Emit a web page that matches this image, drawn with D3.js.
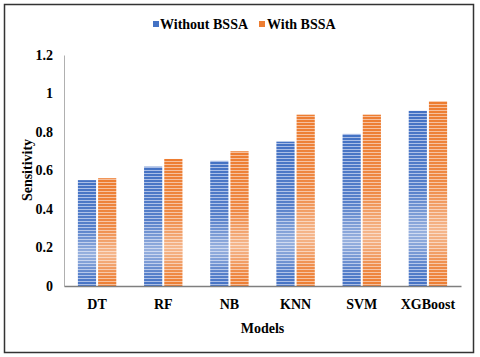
<!DOCTYPE html>
<html><head><meta charset="utf-8">
<script src="https://cdn.jsdelivr.net/npm/d3@7"></script>
<style>html,body{margin:0;padding:0;background:#fff}svg{display:block}</style>
</head><body><svg id="c" width="480" height="357"></svg>
<script>
const categories = ["DT","RF","NB","KNN","SVM","XGBoost"];
const seriesNames = ["Without BSSA","With BSSA"];
const withoutBSSA = [0.55,0.62,0.65,0.75,0.79,0.91];
const withBSSA = [0.56,0.66,0.70,0.89,0.89,0.96];
const yTicks = [0,0.2,0.4,0.6,0.8,1,1.2];
const colors = ["#4472C4","#ED7D31"];
const lights = ["#a9bde6","#f6bf9c"];

const svg = d3.select("#c");
const font = "'Liberation Serif','Times New Roman',serif";
const m = {l:64, r:461, t:55, b:286};
const x = d3.scaleBand().domain(categories).range([m.l, m.r]).paddingInner(0.42).paddingOuter(0.21);
const xs = d3.scaleBand().domain(seriesNames).range([0, x.bandwidth()]).paddingInner(0.1);
const y = d3.scaleLinear().domain([0,1.2]).range([m.b, m.t]);

const defs = svg.append("defs");
colors.forEach((c,i)=>{
  const p = defs.append("pattern").attr("id","p"+i).attr("patternUnits","userSpaceOnUse")
    .attr("width",4).attr("height",3);
  p.append("rect").attr("width",4).attr("height",3).attr("fill",c);
  p.append("rect").attr("y",2).attr("width",4).attr("height",1).attr("fill",lights[i]);
  const g = defs.append("linearGradient").attr("id","g"+i).attr("x1",0).attr("x2",0).attr("y1",0).attr("y2",1);
  [[0,0],[0.45,0.1],[0.7,0.45],[0.8,0.3],[0.9,0.1],[1,0]].forEach(([o,a])=>
    g.append("stop").attr("offset",o).attr("stop-color","#fff").attr("stop-opacity",a));
});

// border
svg.append("rect").attr("x",4.5).attr("y",4.5).attr("width",469).attr("height",348)
  .attr("fill","none").attr("stroke","#333").attr("stroke-width",1.5);

// y axis
const ya = svg.append("g").attr("transform",`translate(${m.l},0)`)
  .call(d3.axisLeft(y).tickValues(yTicks).tickSize(0).tickPadding(11).tickFormat(d=>d3.format("")(d)));
ya.select(".domain").attr("stroke","#b0b0b0").attr("stroke-width",1);
ya.selectAll("text").attr("font-family",font).attr("font-weight","bold").attr("font-size",14).attr("fill","#000");

// bars
const series = [withoutBSSA, withBSSA];
series.forEach((vals,si)=>{
  const g = svg.append("g");
  const sel = g.selectAll("g").data(categories).join("g");
  sel.append("rect")
    .attr("x",(d,i)=>x(d)+xs(seriesNames[si])).attr("width",xs.bandwidth())
    .attr("y",(d,i)=>y(vals[i])).attr("height",(d,i)=>y(0)-y(vals[i]))
    .attr("fill",`url(#p${si})`);
  sel.append("rect")
    .attr("x",(d,i)=>x(d)+xs(seriesNames[si])).attr("width",xs.bandwidth())
    .attr("y",(d,i)=>y(vals[i])).attr("height",(d,i)=>y(0)-y(vals[i]))
    .attr("fill",`url(#g${si})`);
});

// x axis
const xa = svg.append("g").attr("transform",`translate(0,${m.b})`)
  .call(d3.axisBottom(x).tickSize(0).tickPadding(13));
xa.select(".domain").attr("stroke","#7f7f7f").attr("stroke-width",1.5);
xa.selectAll("text").attr("font-family",font).attr("font-weight","bold").attr("font-size",14).attr("fill","#000");

// axis titles
svg.append("text").attr("x",(m.l+m.r)/2).attr("y",333).attr("text-anchor","middle")
  .attr("font-family",font).attr("font-weight","bold").attr("font-size",14).text("Models");
svg.append("text").attr("transform","translate(32,170) rotate(-90)").attr("text-anchor","middle")
  .attr("font-family",font).attr("font-weight","bold").attr("font-size",14).text("Sensitivity");

// legend
const leg = [{x:153,tx:160},{x:259,tx:267}];
seriesNames.forEach((n,i)=>{
  svg.append("rect").attr("x",leg[i].x).attr("y",21).attr("width",6).attr("height",6).attr("fill",colors[i]);
  svg.append("text").attr("x",leg[i].tx).attr("y",29).attr("font-family",font).attr("font-weight","bold")
    .attr("font-size",14).text(n);
});
</script></body></html>
